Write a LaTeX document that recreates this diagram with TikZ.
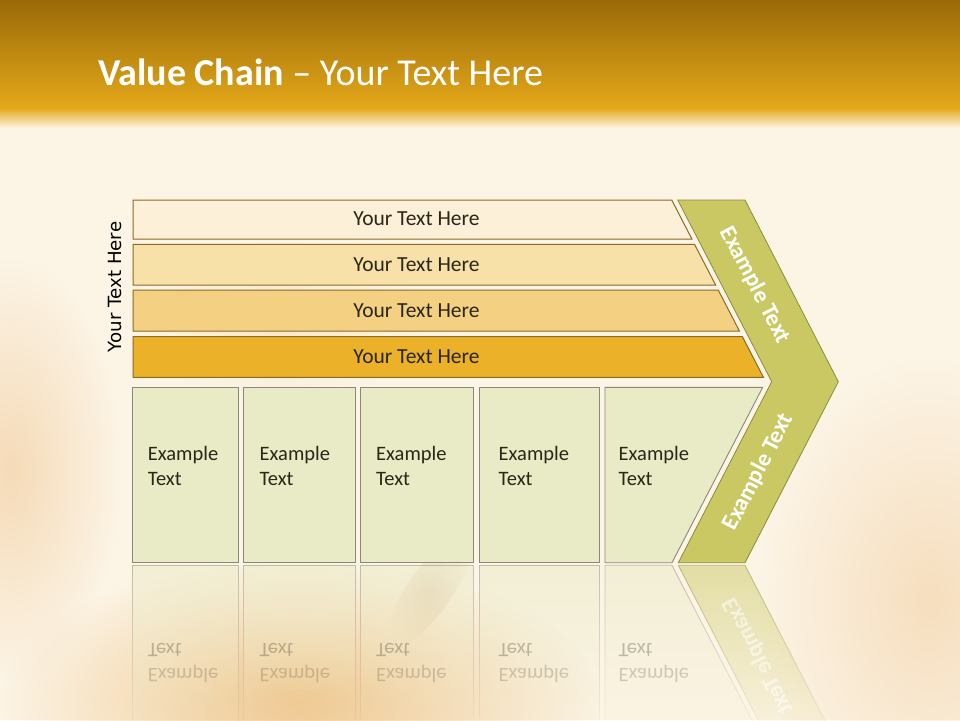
\documentclass[tikz,border=0pt]{standalone}
\usepackage{fontspec}
\setmainfont{Carlito}
\newfontfamily\vfont{DejaVu Sans}
\usetikzlibrary{fadings}

\definecolor{hdrtop}{HTML}{9A6A08}
\definecolor{hdrbot}{HTML}{E4A81A}
\definecolor{cream}{HTML}{FCF4E5}
\definecolor{barA}{HTML}{FCF0D8}
\definecolor{barB}{HTML}{F8E1A9}
\definecolor{barC}{HTML}{F4D182}
\definecolor{barD}{HTML}{EBB128}
\definecolor{barline}{HTML}{8C6A22}
\definecolor{boxfill}{HTML}{E9EBC6}
\definecolor{boxline}{HTML}{8A8878}
\definecolor{chev}{HTML}{C9C863}
\definecolor{chevline}{HTML}{8E8B3C}
\definecolor{txt}{HTML}{2A2618}
\definecolor{blobOrange}{HTML}{EDBB78}
\definecolor{blobPeach}{HTML}{F3D0A4}
\definecolor{blobBrown}{HTML}{C9A070}

\tikzfading[name=fuzzy, inner color=transparent!0, outer color=transparent!100]
\tikzfading[name=reflfade, top color=transparent!50, bottom color=transparent!100]

\tikzset{
  barshape/.style={draw=barline, line width=1pt},
  bartext/.style={font=\fontsize{21.5}{24}\selectfont, text=txt, inner sep=0pt, anchor=base},
  boxshape/.style={draw=boxline, fill=boxfill, line width=0.9pt},
  boxtext/.style={font=\fontsize{20.5}{24}\selectfont, text=txt, inner sep=0pt, anchor=base west},
  chevshape/.style={draw=chevline, fill=chev, line width=0.8pt},
  chevtext/.style={font=\bfseries\fontsize{23.5}{26}\selectfont, text=white, inner sep=0pt},
  reflshape/.style={draw=boxline, fill=boxfill, line width=0.9pt, path fading=reflfade},
  refltext/.style={boxtext, yscale=-1, opacity=0.2},
  blob/.style={path fading=fuzzy},
}

\begin{document}
\begin{tikzpicture}[x=1pt,y=-1pt]
\useasboundingbox (0,0) rectangle (960,720);
% background
\fill[cream] (0,0) rectangle (960,720);
\fill[blobOrange, blob, opacity=0.8] (300,700) ellipse (300 and 140);
\fill[blobPeach, blob, opacity=0.7] (10,470) ellipse (110 and 210);
\fill[blobPeach, blob, opacity=0.6] (930,600) ellipse (170 and 240);
\fill[blobBrown, blob, opacity=0.3, rotate around={55:(430,590)}] (430,590) ellipse (70 and 22);
\fill[blobPeach, blob, opacity=0.35] (280,320) ellipse (140 and 80);
% header
\shade[top color=hdrtop, bottom color=hdrbot] (0,0) rectangle (960,108);
\shade[top color=hdrbot, bottom color=cream] (0,108) rectangle (960,128);
\node[anchor=base west, text=white, font=\fontsize{38}{42}\selectfont, inner sep=0pt] (title) at (98,85) {\textbf{Value Chain} – Your Text Here};

% side label
\node[rotate=90, font=\vfont\fontsize{18.2}{20}\selectfont, text=black, inner sep=0pt] (side) at (115,287) {Your Text Here};

% bars
\path[barshape, fill=barA] (133,200) -- (671.7,200) -- (691.9,239) -- (133,239) -- cycle;
\path[barshape, fill=barB] (133,244.3) -- (694.5,244.3) -- (715.6,285) -- (133,285) -- cycle;
\path[barshape, fill=barC] (133,290) -- (718.2,290) -- (739.4,331) -- (133,331) -- cycle;
\path[barshape, fill=barD] (133,336.7) -- (742.4,336.7) -- (763.4,377.3) -- (133,377.3) -- cycle;
\node[bartext] (t1) at (416.5,225.5) {Your Text Here};
\node[bartext] (t2) at (416.5,271.5) {Your Text Here};
\node[bartext] (t3) at (416.5,317) {Your Text Here};
\node[bartext] (t4) at (416.5,363) {Your Text Here};

% chevron
\path[chevshape] (677.7,200) -- (745,200) -- (838.3,381.7) -- (745,562.7) -- (678.3,562.7) -- (771.7,381.7) -- cycle;
\node[chevtext, rotate=-62.7] (c1) at (755,285) {Example Text};
\node[chevtext, rotate=62.7] (c2) at (758.5,472) {Example Text};

% boxes
\path[boxshape] (132.3,387.3) rectangle (238.3,562.7);
\path[boxshape] (243.3,387.3) rectangle (355,562.7);
\path[boxshape] (360.7,387.3) rectangle (473.3,562.7);
\path[boxshape] (479.3,387.3) rectangle (599.3,562.7);
\path[boxshape] (605,387.3) -- (762.7,387.3) -- (672,562.7) -- (605,562.7) -- cycle;
\node[boxtext] (e1) at (147.7,460) {Example};
\node[boxtext] (x1) at (147.7,485) {Text};
\node[boxtext] (e2) at (259.5,460) {Example};
\node[boxtext] (x2) at (259.5,485) {Text};
\node[boxtext] (e3) at (376,460) {Example};
\node[boxtext] (x3) at (376,485) {Text};
\node[boxtext] (e4) at (498.5,460) {Example};
\node[boxtext] (x4) at (498.5,485) {Text};
\node[boxtext] (e5) at (618.5,460) {Example};
\node[boxtext] (x5) at (618.5,485) {Text};

% reflection
\begin{scope}
\clip (0,564) rectangle (960,720);
\path[reflshape] (132.3,565.3) rectangle (238.3,740.7);
\path[reflshape] (243.3,565.3) rectangle (355,740.7);
\path[reflshape] (360.7,565.3) rectangle (473.3,740.7);
\path[reflshape] (479.3,565.3) rectangle (599.3,740.7);
\path[reflshape] (605,565.3) -- (672,565.3) -- (762.7,740.7) -- (605,740.7) -- cycle;
\path[reflshape, draw=chevline, fill=chev] (678.3,565.3) -- (745,565.3) -- (838.3,746.3) -- (771.7,746.3) -- cycle;
\node[chevtext, rotate=-62.7, yscale=-1, opacity=0.55] (rc2) at (758.5,656) {Example Text};
\node[refltext] (re1) at (147.7,668) {Example};
\node[refltext, opacity=0.28] (rx1) at (147.7,643) {Text};
\node[refltext] (re2) at (259.5,668) {Example};
\node[refltext, opacity=0.28] (rx2) at (259.5,643) {Text};
\node[refltext] (re3) at (376,668) {Example};
\node[refltext, opacity=0.28] (rx3) at (376,643) {Text};
\node[refltext] (re4) at (498.5,668) {Example};
\node[refltext, opacity=0.28] (rx4) at (498.5,643) {Text};
\node[refltext] (re5) at (618.5,668) {Example};
\node[refltext, opacity=0.28] (rx5) at (618.5,643) {Text};
\end{scope}
\end{tikzpicture}
\end{document}
